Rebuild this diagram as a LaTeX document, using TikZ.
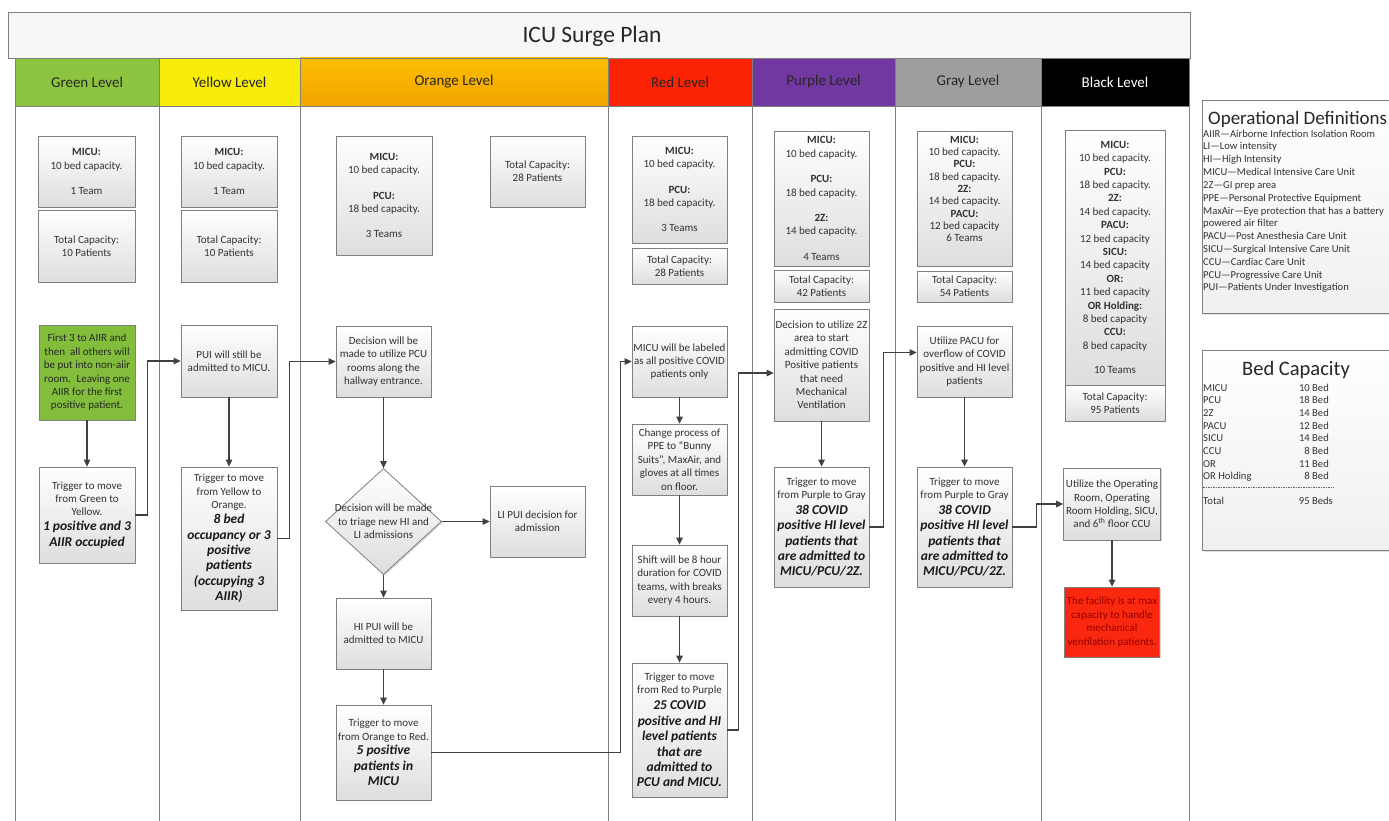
\documentclass[tikz,border=0pt]{standalone}
\usepackage{fontspec}
\setmainfont{Carlito}
\usetikzlibrary{shapes.geometric,arrows.meta,shadows}
\definecolor{txt}{RGB}{50,50,50}
\definecolor{lanegreen}{RGB}{141,196,63}
\definecolor{laneyellow}{RGB}{247,236,10}
\definecolor{laneorangeA}{RGB}{252,190,0}
\definecolor{laneorangeB}{RGB}{242,164,0}
\definecolor{lanered}{RGB}{252,35,5}
\definecolor{lanepurple}{RGB}{112,56,160}
\definecolor{lanegray}{RGB}{158,158,158}
\definecolor{boxgreen}{RGB}{130,190,60}
\definecolor{alarmred}{RGB}{250,40,15}
\definecolor{alarmtext}{RGB}{150,0,0}
\definecolor{conn}{RGB}{64,64,64}
\definecolor{frame}{RGB}{128,128,128}
\newcommand{\trig}{\fontsize{13.5}{16}\selectfont\bfseries\itshape\color{black!90}}
\begin{document}
\begin{tikzpicture}[x=1pt,y=-1pt,
  stepbox/.style={draw=frame, line width=0.8pt, top color=white, bottom color=black!13,
    text=txt, font=\fontsize{11}{13.4}\selectfont, align=center, inner xsep=0.5pt, inner ysep=1pt,
    drop shadow={shadow xshift=1.3pt,shadow yshift=-1.3pt,opacity=0.3}},
  bx/.style 2 args={stepbox, minimum width=#1pt, minimum height=#2pt},
  flow/.style={draw=conn, line width=1.3pt, -{Triangle[length=7pt,width=6.5pt]}},
  lane/.style={draw=frame, line width=0.8pt},
  hdr/.style={draw=frame, line width=0.6pt, font=\fontsize{15}{18}\selectfont, text=black!85,
    minimum height=48pt, inner sep=0pt},
  panel/.style={draw=frame, line width=0.8pt, top color=white, bottom color=black!6,
    drop shadow={shadow xshift=1.3pt,shadow yshift=-1.3pt,opacity=0.25}, inner sep=0pt},
  deftext/.style={font=\fontsize{10.6}{12.8}\selectfont, text=black!80, inner sep=0pt},
]
\useasboundingbox (0,0) rectangle (1389,821);
\fill[white] (0,0) rectangle (1389,821);

% title band
\node[draw=frame, fill=black!3, line width=0.8pt, minimum width=1182pt, minimum height=46pt, inner sep=0pt] (band) at (599,35) {};
\node[font=\fontsize{23.5}{28}\selectfont, text=black!85, inner sep=0pt] (title) at (592,36) {ICU Surge Plan};

% header cells
\node[hdr, fill=lanegreen, minimum width=144pt] (hgreen) at (87,82) {Green Level};
\node[hdr, fill=laneyellow, minimum width=141pt] (hyellow) at (229.5,82) {Yellow Level};
\node[hdr, top color=laneorangeA, bottom color=laneorangeB, minimum width=308pt] (horange) at (454,82) {Orange Level};
\node[hdr, fill=lanered, minimum width=144pt] (hred) at (680,82) {Red Level};
\node[hdr, fill=lanepurple, minimum width=143pt] (hpurple) at (823.5,82) {Purple Level};
\node[hdr, fill=lanegray, minimum width=146pt] (hgray) at (968,82) {Gray Level};
\node[hdr, fill=black, text=white, minimum width=148pt] (hblack) at (1115,82) {Black Level};

% lane lines
\foreach \x in {15,159,300,608,752,895,1041,1189} \draw[lane] (\x,106) -- (\x,821);

% Green
\node[bx={97}{71}] (g1) at (86.5,171.5) {\textbf{MICU:}\\10 bed capacity.\\[12pt]1 Team};
\node[bx={97}{72}] (g2) at (86.5,246) {Total Capacity:\\10 Patients};
\node[bx={96}{95}, top color=boxgreen, bottom color=boxgreen, text=black!85] (g3) at (87,372.5)
  {First 3 to AIIR and\\then~ all others will\\be put into non-aiir\\room.~ Leaving one\\AIIR for the first\\positive patient.};
\node[bx={96}{96}] (g4) at (87,515)
  {Trigger to move\\from Green to\\Yellow.\\[1.5pt]\trig 1 positive and 3\\[2pt]\trig AIIR occupied};

% Yellow
\node[bx={96}{71}] (y1) at (229,171.5) {\textbf{MICU:}\\10 bed capacity.\\[12pt]1 Team};
\node[bx={96}{72}] (y2) at (229,246) {Total Capacity:\\10 Patients};
\node[bx={96}{72}] (y3) at (229,361) {PUI will still be\\admitted to MICU.};
\node[bx={96}{143}] (y4) at (229,538.5)
  {Trigger to move\\from Yellow to\\Orange.\\[1.5pt]\trig 8 bed\\[2pt]\trig occupancy or 3\\[2pt]\trig positive\\[2pt]\trig patients\\[2pt]\trig (occupying 3\\[2pt]\trig AIIR)};

% Orange
\node[bx={96}{119}] (ot1) at (384,195.5) {\textbf{MICU:}\\10 bed capacity.\\[12pt]\textbf{PCU:}\\18 bed capacity.\\[12pt]3 Teams};
\node[bx={95}{71}] (ot2) at (537.5,171.5) {Total Capacity:\\28 Patients};
\node[bx={95}{71}] (o1) at (383.5,361.5) {Decision will be\\made to utilize PCU\\rooms along the\\hallway entrance.};
\node[stepbox, diamond, minimum width=116pt, minimum height=106pt, inner sep=0pt,
  label={[name=dtext, font=\fontsize{11}{13.4}\selectfont, text=txt, align=center]center:Decision will be made\\to triage new HI and\\LI admissions}] (d) at (383.5,521.5) {};
\node[bx={95}{71}] (li) at (537.5,521.5) {LI PUI decision for\\admission};
\node[bx={95}{71}] (hi) at (383.5,633.5) {HI PUI will be\\admitted to MICU};
\node[bx={95}{95}] (otr) at (383.5,752.5)
  {Trigger to move\\from Orange to Red.\\[1.5pt]\trig 5 positive\\[2pt]\trig patients in\\[2pt]\trig MICU};

% Red
\node[bx={95}{107}] (r1) at (679.5,189.5) {\textbf{MICU:}\\10 bed capacity.\\[12pt]\textbf{PCU:}\\18 bed capacity.\\[12pt]3 Teams};
\node[bx={95}{36}] (r2) at (679.5,266) {Total Capacity:\\28 Patients};
\node[bx={95}{71}] (r3) at (679.5,361.5) {MICU will be labeled\\as all positive COVID\\patients only};
\node[bx={95}{71}] (r4) at (679.5,459.5) {Change process of\\PPE to “Bunny\\Suits”, MaxAir, and\\gloves at all times\\on floor.};
\node[bx={95}{71}] (r5) at (679.5,580.5) {Shift will be 8 hour\\duration for COVID\\teams, with breaks\\every 4 hours.};
\node[bx={95}{134}] (r6) at (679.5,730)
  {Trigger to move\\from Red to Purple\\[2.5pt]\trig 25 COVID\\[2pt]\trig positive and HI\\[2pt]\trig level patients\\[2pt]\trig that are\\[2pt]\trig admitted to\\[2pt]\trig PCU and MICU.};

% Purple
\node[bx={95}{135}] (p1) at (821.5,198.5) {\textbf{MICU:}\\10 bed capacity.\\[12pt]\textbf{PCU:}\\18 bed capacity.\\[12pt]\textbf{2Z:}\\14 bed capacity.\\[12pt]4 Teams};
\node[bx={95}{32}] (p2) at (821.5,286) {Total Capacity:\\42 Patients};
\node[bx={95}{112}] (p3) at (821.5,365) {Decision to utilize 2Z\\area to start\\admitting COVID\\Positive patients\\that need\\Mechanical\\Ventilation};
\node[bx={95}{120}] (p4) at (821.5,527)
  {Trigger to move\\from Purple to Gray\\[2.5pt]\trig 38 COVID\\[2pt]\trig positive HI level\\[2pt]\trig patients that\\[2pt]\trig are admitted to\\[2pt]\trig MICU/PCU/2Z.};

% Gray
\node[bx={95}{135}, font=\fontsize{11}{12.3}\selectfont] (gr1) at (964.5,198.5) {\textbf{MICU:}\\10 bed capacity.\\\textbf{PCU:}\\18 bed capacity.\\\textbf{2Z:}\\14 bed capacity.\\\textbf{PACU:}\\12 bed capacity\\6 Teams\\[7pt]\mbox{}};
\node[bx={95}{31}] (gr2) at (964.5,286.5) {Total Capacity:\\54 Patients};
\node[bx={95}{71}] (gr3) at (964.5,361.5) {Utilize PACU for\\overflow of COVID\\positive and HI level\\patients};
\node[bx={95}{120}] (gr4) at (964.5,527)
  {Trigger to move\\from Purple to Gray\\[2.5pt]\trig 38 COVID\\[2pt]\trig positive HI level\\[2pt]\trig patients that\\[2pt]\trig are admitted to\\[2pt]\trig MICU/PCU/2Z.};

% Black
\node[bx={100}{255}] (b1) at (1115,257.5) {\textbf{MICU:}\\10 bed capacity.\\\textbf{PCU:}\\18 bed capacity.\\\textbf{2Z:}\\14 bed capacity.\\\textbf{PACU:}\\12 bed capacity\\\textbf{SICU:}\\14 bed capacity\\\textbf{OR:}\\11 bed capacity\\\textbf{OR Holding:}\\8 bed capacity\\\textbf{CCU:}\\8 bed capacity\\[11pt]10 Teams};
\node[bx={100}{36}] (b2) at (1115,403) {Total Capacity:\\95 Patients};
\node[bx={97}{72}] (b3) at (1112,504) {Utilize the Operating\\Room, Operating\\Room Holding, SICU,\\and 6\textsuperscript{th} floor CCU};
\node[bx={95}{70}, top color=alarmred, bottom color=alarmred, text=alarmtext] (b4) at (1112,622) {The facility is at max\\capacity to handle\\mechanical\\ventilation patients.};

% connectors
\draw[flow] (g3) -- (g4);
\draw[flow] (g4.east) -- ++(12,0) |- (y3.west);
\draw[flow] (y3) -- (y4);
\draw[flow] (y4.east) -- ++(12,0) |- (o1.west);
\draw[flow] (o1) -- (d);
\draw[flow] (d.east) -- (li.west);
\draw[flow] (d) -- (hi);
\draw[flow] (hi) -- (otr);
\draw[flow] (otr.east) -- ++(189,0) |- (r3.west);
\draw[flow] (r3) -- (r4);
\draw[flow] (r4) -- (r5);
\draw[flow] (r5) -- (r6);
\draw[flow] (r6.east) -- ++(11,0) |- ([yshift=-8pt]p3.west);
\draw[flow] (p3) -- (p4);
\draw[flow] (p4.east) -- ++(14,0) |- ([yshift=9pt]gr3.west);
\draw[flow] (gr3) -- (gr4);
\draw[flow] (gr4.east) -- ++(24,0) |- (b3.west);
\draw[flow] (b3) -- (b4);

% right panels
\begin{scope}
\clip (1190,0) rectangle (1389,821);
\node[panel, anchor=north west, minimum width=200pt, minimum height=213pt] (ops) at (1202,100) {};
\node[font=\fontsize{19}{23}\selectfont, text=black!85, inner sep=0pt, anchor=base west] (opstitle) at (1208,125) {Operational Definitions};
\foreach \t [count=\i] in {AIIR—Airborne Infection Isolation Room, LI—Low intensity, HI—High Intensity,
  MICU—Medical Intensive Care Unit, 2Z—GI prep area, PPE—Personal Protective Equipment,
  MaxAir—Eye protection that has a battery, powered air filter, PACU—Post Anesthesia Care Unit,
  SICU—Surgical Intensive Care Unit, CCU—Cardiac Care Unit, PCU—Progressive Care Unit,
  PUI—Patients Under Investigation}
  \node[deftext, anchor=base west] (def\i) at (1203,124.2+12.83*\i) {\t};

\node[panel, anchor=north west, minimum width=200pt, minimum height=200pt] (beds) at (1202,350) {};
\node[font=\fontsize{20.5}{24}\selectfont, text=black!85, inner sep=0pt, anchor=base] (bedtitle) at (1296,375) {Bed Capacity};
\foreach \n/\v [count=\i] in {MICU/10 Bed, PCU/18 Bed, 2Z/14 Bed, PACU/12 Bed, SICU/14 Bed, CCU/8 Bed, OR/11 Bed, OR Holding/8 Bed} {
  \node[deftext, anchor=base west] (bn\i) at (1203,378.3+12.7*\i) {\n};
  \node[deftext, anchor=base east] (bv\i) at (1329,378.3+12.7*\i) {\v};
}
\draw[black!60, line width=0.6pt, dash pattern=on 1.5pt off 1pt] (1203,487) -- (1334,487);
\node[deftext, anchor=base west] (totl) at (1203,504) {Total};
\node[deftext, anchor=base east] (totv) at (1333,504) {95 Beds};
\end{scope}
\end{tikzpicture}
\end{document}
